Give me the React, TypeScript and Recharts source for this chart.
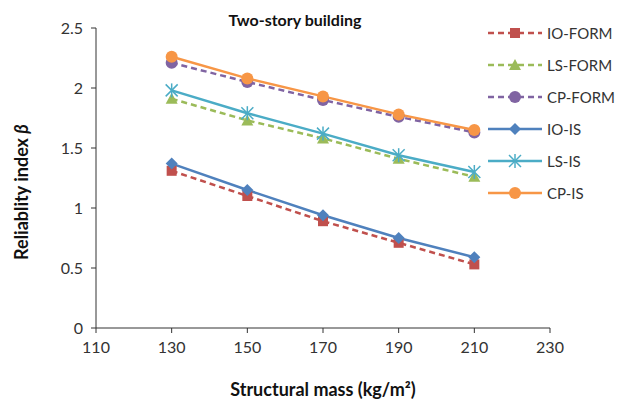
import { LineChart, Line, XAxis, YAxis, Label } from 'recharts';

const mass = [130, 150, 170, 190, 210];
const ioForm = [1.31, 1.10, 0.89, 0.71, 0.53];
const lsForm = [1.91, 1.73, 1.58, 1.41, 1.26];
const cpForm = [2.21, 2.05, 1.90, 1.76, 1.63];
const ioIs = [1.37, 1.15, 0.94, 0.75, 0.59];
const lsIs = [1.98, 1.79, 1.62, 1.44, 1.30];
const cpIs = [2.26, 2.08, 1.93, 1.78, 1.65];
const xTicks = [110, 130, 150, 170, 190, 210, 230];
const yTicks = [0, 0.5, 1, 1.5, 2, 2.5];

const data = mass.map((m, i) => ({
  mass: m,
  ioForm: ioForm[i], lsForm: lsForm[i], cpForm: cpForm[i],
  ioIs: ioIs[i], lsIs: lsIs[i], cpIs: cpIs[i],
}));

type Shape = 'square' | 'triangle' | 'circle' | 'diamond' | 'star';

const series: { key: string; name: string; color: string; dashed: boolean; shape: Shape }[] = [
  { key: 'ioForm', name: 'IO-FORM', color: '#C0504D', dashed: true, shape: 'square' },
  { key: 'lsForm', name: 'LS-FORM', color: '#9BBB59', dashed: true, shape: 'triangle' },
  { key: 'cpForm', name: 'CP-FORM', color: '#8064A2', dashed: true, shape: 'circle' },
  { key: 'ioIs', name: 'IO-IS', color: '#4F81BD', dashed: false, shape: 'diamond' },
  { key: 'lsIs', name: 'LS-IS', color: '#4BACC6', dashed: false, shape: 'star' },
  { key: 'cpIs', name: 'CP-IS', color: '#F79646', dashed: false, shape: 'circle' },
];

const FONT = 'Lato, "Open Sans", sans-serif';

function Marker({ cx, cy, shape, color }: { cx: number; cy: number; shape: Shape; color: string }) {
  if (cx == null || cy == null) return null;
  switch (shape) {
    case 'square':
      return <rect x={cx - 5} y={cy - 5} width={10} height={10} fill={color} />;
    case 'triangle':
      return <polygon points={`${cx},${cy - 6} ${cx + 6},${cy + 5} ${cx - 6},${cy + 5}`} fill={color} />;
    case 'circle':
      return <circle cx={cx} cy={cy} r={6} fill={color} />;
    case 'diamond':
      return <polygon points={`${cx},${cy - 6} ${cx + 6},${cy} ${cx},${cy + 6} ${cx - 6},${cy}`} fill={color} />;
    case 'star':
      return (
        <g stroke={color} strokeWidth={1.5}>
          <line x1={cx - 6} y1={cy - 6} x2={cx + 6} y2={cy + 6} />
          <line x1={cx - 6} y1={cy + 6} x2={cx + 6} y2={cy - 6} />
          <line x1={cx} y1={cy - 7} x2={cx} y2={cy + 7} />
        </g>
      );
  }
  return null;
}

function LegendBox() {
  return (
    <div style={{
      position: 'absolute', left: 486, top: 17, width: 150,
      fontFamily: FONT, fontSize: 15, color: '#333',
    }}>
      {series.map((s) => (
        <div key={s.key} style={{ display: 'flex', alignItems: 'center', height: 32 }}>
          <svg width={58} height={16}>
            <line x1={2} y1={8} x2={56} y2={8} stroke={s.color} strokeWidth={2.5}
              strokeDasharray={s.dashed ? '6 4' : undefined} />
            <Marker cx={29} cy={8} shape={s.shape} color={s.color} />
          </svg>
          <span style={{ marginLeft: 3 }}>{s.name}</span>
        </div>
      ))}
    </div>
  );
}

export default function App() {
  return (
    <div style={{ position: 'absolute', left: 0, top: 0, width: 630, height: 402, background: '#fff' }}>
      <LineChart width={630} height={402} data={data}
        margin={{ top: 28, right: 80, left: 0, bottom: 0 }}>
        <XAxis dataKey="mass" type="number" domain={[110, 230]} ticks={xTicks} interval={0}
          height={74} stroke="#333" tickSize={5} tickMargin={9}
          tick={{ fill: '#333', fontSize: 16, fontFamily: FONT }}>
          <Label value="Structural mass (kg/m²)" position="insideBottom" offset={6}
            style={{ fontFamily: FONT, fontWeight: 700, fontSize: 18, fill: '#111' }} />
        </XAxis>
        <YAxis type="number" domain={[0, 2.5]} ticks={yTicks} interval={0} width={96}
          stroke="#333" tickSize={5} tickMargin={8}
          tick={{ fill: '#333', fontSize: 16, fontFamily: FONT }}
          label={{
            content: () => (
              <text x={21} y={192} transform="rotate(-90 21 192)" textAnchor="middle"
                dominantBaseline="central"
                style={{ fontFamily: FONT, fontWeight: 700, fontSize: 18, fill: '#111' }}>
                Reliablity index <tspan fontStyle="italic">β</tspan>
              </text>
            ),
          }} />
        {series.map((s) => (
          <Line key={s.key} dataKey={s.key} name={s.name} stroke={s.color} strokeWidth={2.5}
            strokeDasharray={s.dashed ? '6 4' : undefined} isAnimationActive={false}
            dot={(p: any) => <Marker key={`${s.key}-${p.index}`} cx={p.cx} cy={p.cy} shape={s.shape} color={s.color} />}
            activeDot={false} />
        ))}
      </LineChart>
      <div style={{
        position: 'absolute', left: 195, top: 10, width: 200, textAlign: 'center',
        fontFamily: FONT, fontWeight: 700, fontSize: 16, color: '#111',
      }}>
        Two-story building
      </div>
      <LegendBox />
    </div>
  );
}
